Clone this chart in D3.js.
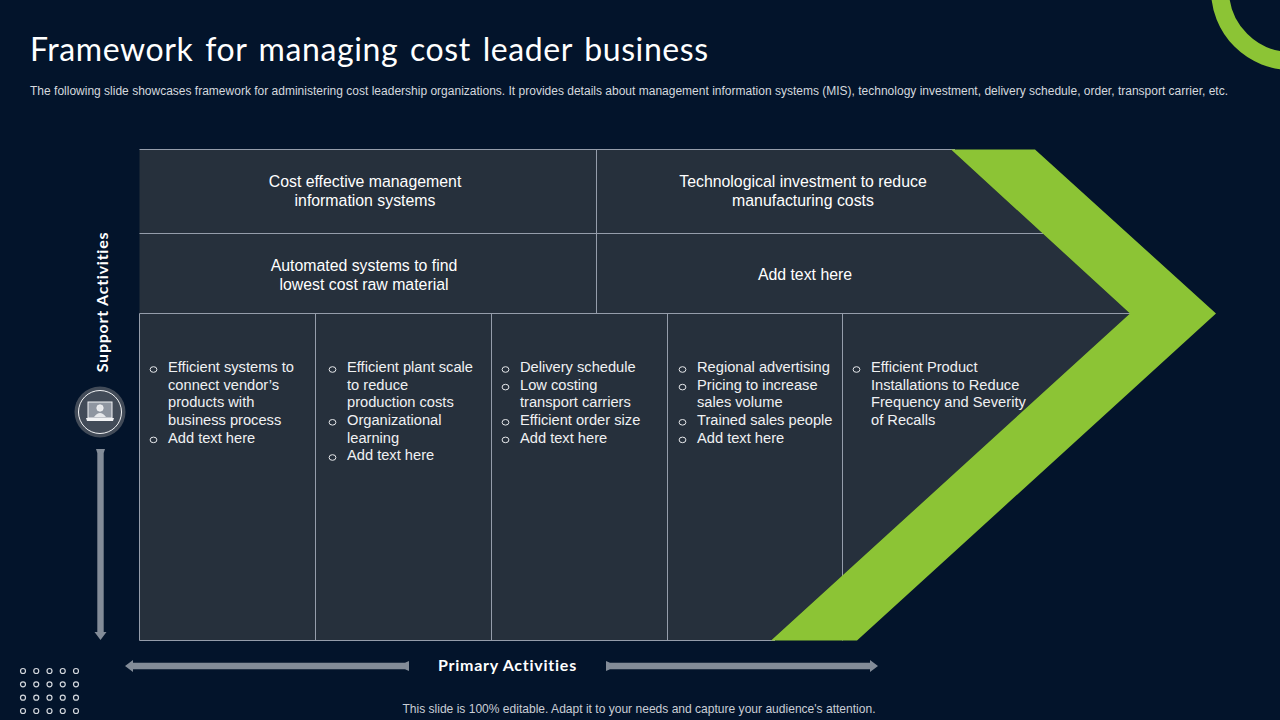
<!DOCTYPE html>
<html>
<head>
<meta charset="utf-8">
<title>Framework for managing cost leader business</title>
<script src="https://cdn.jsdelivr.net/npm/d3@7"></script>
<style>
  html, body { margin: 0; padding: 0; background: #03142b; }
  svg { display: block; }
  text { font-family: "Liberation Sans", Arial, sans-serif; }
</style>
</head>
<body>
<svg id="chart" width="1280" height="720"></svg>
<script>
// ─── Content ────────────────────────────────────────────
const titleText = 'Framework for managing cost leader business';
const subtitleText = 'The following slide showcases framework for administering cost leadership organizations. It provides details about management information systems (MIS), technology investment, delivery schedule, order, transport carrier, etc.';
const footerText = "This slide is 100% editable. Adapt it to your needs and capture your audience's attention.";
const supportLabel = 'Support Activities';
const primaryLabel = 'Primary Activities';

const supportCells = [
  ['Cost effective management', 'information systems'],
  ['Technological investment to reduce', 'manufacturing costs'],
  ['Automated systems to find', 'lowest cost raw material'],
  ['Add text here']
];

const primaryNames = ['inbound', 'operations', 'outbound', 'marketing', 'service'];
const inboundItems = [['Efficient systems to', 'connect vendor\u2019s', 'products with', 'business process'], ['Add text here']];
const operationsItems = [['Efficient plant scale', 'to reduce', 'production costs'], ['Organizational', 'learning'], ['Add text here']];
const outboundItems = [['Delivery schedule'], ['Low costing', 'transport carriers'], ['Efficient order size'], ['Add text here']];
const marketingItems = [['Regional advertising'], ['Pricing to increase', 'sales volume'], ['Trained sales people'], ['Add text here']];
const serviceItems = [['Efficient Product', 'Installations to Reduce', 'Frequency and Severity', 'of Recalls']];
const primaryItems = [inboundItems, operationsItems, outboundItems, marketingItems, serviceItems];

// ─── Layout ─────────────────────────────────────────────
const BG = '#03142b', PANEL = '#26303c', LINE = '#959dab', GREEN = '#8cc435', ARROW = '#838c98';
const L = 139.5, T = 149.5, B = 640.5, MID_X = 596.5, ROW1 = 233.5, ROW2 = 313.5;
const TIP_IN = 1130, TIP_OUT = 1216, TOP_IN = 951, TOP_OUT = 1035, BOT_IN = 771, BOT_OUT = 857;

const svg = d3.select('#chart');
svg.append('rect').attr('width', 1280).attr('height', 720).attr('fill', BG);

// Corner ring
svg.append('circle')
  .attr('cx', 1291).attr('cy', -10).attr('r', 71)
  .attr('fill', 'none').attr('stroke', GREEN).attr('stroke-width', 18);

// Title + subtitle
svg.append('text')
  .attr('x', 30).attr('y', 61)
  .attr('fill', '#ffffff')
  .style('font-family', 'Lato, sans-serif').style('font-size', '32px')
  .style('letter-spacing', '0.6px').style('word-spacing', '3px')
  .text(titleText);

svg.append('text')
  .attr('x', 30).attr('y', 94.5)
  .attr('fill', '#d5d9df')
  .style('font-size', '12px')
  .attr('textLength', 1198).attr('lengthAdjust', 'spacing')
  .text(subtitleText);

// ─── Chevron panel ──────────────────────────────────────
const polyLine = d3.line();
svg.append('path')
  .attr('d', polyLine([[L, T], [TOP_IN, T], [TIP_IN, ROW2], [BOT_IN, B], [L, B]]) + 'Z')
  .attr('fill', PANEL);

const hLines = [[L, TOP_IN + 4, T], [L, 1046, ROW1], [L, TIP_IN, ROW2], [L, BOT_IN + 4, B]];
svg.selectAll('.h-line').data(hLines).enter().append('line')
  .attr('class', 'h-line')
  .attr('x1', d => d[0]).attr('x2', d => d[1])
  .attr('y1', d => d[2]).attr('y2', d => d[2])
  .attr('stroke', LINE).attr('stroke-width', 1);

const colX = d3.scaleOrdinal().domain(primaryNames).range([139.5, 315.5, 491.5, 667.5, 842.5]);
const bulletX = d3.scaleOrdinal().domain(primaryNames).range([153.5, 332.5, 505.5, 682.5, 856.5]);
const textX = d3.scaleOrdinal().domain(primaryNames).range([168, 347, 520, 697, 871]);

svg.selectAll('.v-line').data(primaryNames).enter().append('line')
  .attr('class', 'v-line')
  .attr('x1', d => colX(d)).attr('x2', d => colX(d))
  .attr('y1', ROW2).attr('y2', B)
  .attr('stroke', LINE).attr('stroke-width', 1);

// Upper divider between support cells
svg.append('line')
  .attr('x1', MID_X).attr('x2', MID_X).attr('y1', T).attr('y2', ROW2)
  .attr('stroke', LINE).attr('stroke-width', 1);

// Green chevron on top, it hides the line ends
svg.append('path')
  .attr('d', polyLine([[TOP_IN, T], [TOP_OUT, T], [TIP_OUT, ROW2], [BOT_OUT, B], [BOT_IN, B], [TIP_IN, ROW2]]) + 'Z')
  .attr('fill', GREEN);

// ─── Support cell text ──────────────────────────────────
const cellCentreX = [365, 803, 364, 805];
const cellTopY = [181, 181, 265, 274];
const cellLeading = 19;

supportCells.forEach((lines, i) => {
  svg.append('g').selectAll('text').data(lines).enter().append('text')
    .attr('x', cellCentreX[i])
    .attr('y', (d, k) => cellTopY[i] + k * cellLeading)
    .attr('dy', '0.35em')
    .attr('text-anchor', 'middle')
    .attr('fill', '#ffffff')
    .style('font-size', '15.85px')
    .text(d => d);
});

// ─── Primary column bullets ─────────────────────────────
const lineY = d3.scaleLinear().domain([0, 5]).range([367, 455]);

primaryItems.forEach((items, c) => {
  const name = primaryNames[c];
  const g = svg.append('g');
  let row = 0;
  items.forEach(lines => {
    g.append('ellipse')
      .attr('cx', bulletX(name)).attr('cy', lineY(row) + 2.5).attr('rx', 3.4).attr('ry', 2.8)
      .attr('fill', 'none').attr('stroke', '#e6e8eb').attr('stroke-width', 1);
    lines.forEach(t => {
      g.append('text')
        .attr('x', textX(name)).attr('y', lineY(row))
        .attr('dy', '0.35em')
        .attr('fill', '#f0f1f3')
        .style('font-size', '14.67px')
        .text(t);
      row += 1;
    });
  });
});

// ─── Arrows ─────────────────────────────────────────────
const SHAFT = 3.2;
// tail has a small notch, head is a plain triangle
svg.append('path').attr('fill', ARROW).attr('d', polyLine([
  [125, 666], [133, 660], [133, 666 - SHAFT], [405, 666 - SHAFT], [409, 661], [409, 671], [405, 666 + SHAFT], [133, 666 + SHAFT], [133, 672]
]) + 'Z');
svg.append('path').attr('fill', ARROW).attr('d', polyLine([
  [878, 666], [870, 660], [870, 666 - SHAFT], [610, 666 - SHAFT], [606, 661], [606, 671], [610, 666 + SHAFT], [870, 666 + SHAFT], [870, 672]
]) + 'Z');
svg.append('path').attr('fill', ARROW).attr('d', polyLine([
  [100.5, 640], [94.5, 632], [100.5 - SHAFT, 632], [100.5 - SHAFT, 453], [96, 449], [105, 449], [100.5 + SHAFT, 453], [100.5 + SHAFT, 632], [106.5, 632]
]) + 'Z');

svg.append('text')
  .attr('x', 507.5).attr('y', 665.5)
  .attr('dy', '0.35em')
  .attr('text-anchor', 'middle')
  .attr('fill', '#ffffff')
  .style('font-family', 'Lato, sans-serif').style('font-weight', 700).style('font-size', '16px')
  .style('letter-spacing', '0.75px')
  .text(primaryLabel);

svg.append('text')
  .attr('transform', 'translate(102,302) rotate(-90)')
  .attr('dy', '0.35em')
  .attr('text-anchor', 'middle')
  .attr('fill', '#ffffff')
  .style('font-family', 'Lato, sans-serif').style('font-weight', 700).style('font-size', '16px')
  .style('letter-spacing', '0.75px')
  .text(supportLabel);

// ─── Laptop badge ───────────────────────────────────────
const badge = svg.append('g').attr('transform', 'translate(100,412)');
badge.append('circle').attr('r', 25.5).attr('fill', '#424b58');
badge.append('circle').attr('r', 21.5).attr('fill', 'none').attr('stroke', '#f2f3f5').attr('stroke-width', 1);
badge.append('rect').attr('x', -12).attr('y', -10).attr('width', 24).attr('height', 16)
  .attr('fill', '#8f96a1').attr('stroke', '#f2f3f5').attr('stroke-width', 1);
badge.append('path').attr('d', 'M-14,6 L14,6 L13,9 L-13,9 Z').attr('fill', '#f2f3f5');
badge.append('circle').attr('cy', -4).attr('r', 3.2).attr('fill', '#e6e8eb').attr('stroke', '#f2f3f5').attr('stroke-width', 0.8);
badge.append('path').attr('d', 'M-6,5 Q0,-3 6,5 Z').attr('fill', '#e6e8eb');

// ─── Dot grid, bottom left ──────────────────────────────
const dotCols = d3.range(5), dotRows = d3.range(4);
const dotX = d3.scalePoint().domain(dotCols).range([23, 76]);
const dotY = d3.scalePoint().domain(dotRows).range([671, 711]);
svg.append('g').selectAll('circle')
  .data(d3.cross(dotCols, dotRows)).enter().append('circle')
  .attr('cx', d => dotX(d[0])).attr('cy', d => dotY(d[1])).attr('r', 2.5)
  .attr('fill', 'none').attr('stroke', '#d3d7dd').attr('stroke-width', 1.2);

// Footer
svg.append('text')
  .attr('x', 639).attr('y', 709)
  .attr('dy', '0.35em')
  .attr('text-anchor', 'middle')
  .attr('fill', '#c9ced6')
  .style('font-size', '12.05px')
  .text(footerText);
</script>
</body>
</html>
